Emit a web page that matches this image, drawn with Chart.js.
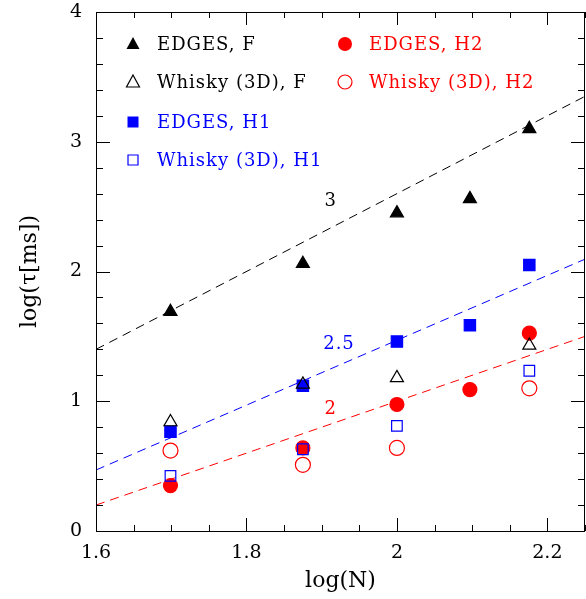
<!DOCTYPE html>
<html>
<head>
<meta charset="utf-8">
<script src="https://cdn.jsdelivr.net/npm/chart.js@4.4.1/dist/chart.umd.min.js"></script>
<style>
    html, body { margin: 0; padding: 0; background: #fff; }
    #wrap { width: 586px; height: 599px; }
</style>
</head>
<body>
<div id="wrap"><canvas id="tau-chart"></canvas></div>
<script>
// datos
const logN = [1.699, 1.875, 2.0, 2.097, 2.176];
const logNWhisky = [1.699, 1.875, 2.0, 2.176];

const edgesF = [1.69, 2.06, 2.45, 2.56, 3.10];
const whiskyF = [0.84, 1.13, 1.18, 1.43];
const edgesH1 = [0.765, 1.12, 1.46, 1.585, 2.05];
const whiskyH1 = [0.425, 0.63, 0.81, 1.235];
const edgesH2 = [0.35, 0.64, 0.975, 1.09, 1.525];
const whiskyH2 = [0.62, 0.51, 0.64, 1.10];

// rectas de pendiente 3, 2.5 y 2
const fitX = [1.6, 2.25];
const fitSlope3 = [1.40, 3.35];
const fitSlope25 = [0.47, 2.095];
const fitSlope2 = [0.20, 1.50];
const slopeLabels = ['3', '2.5', '2'];

const xTicks = [1.6, 1.8, 2.0, 2.2];
const yTicks = [0, 1, 2, 3, 4];

const legendLabels = ['EDGES, F', 'Whisky (3D), F', 'EDGES, H1', 'Whisky (3D), H1', 'EDGES, H2', 'Whisky (3D), H2'];

const FONT = '"DejaVu Serif", serif';

function pts(xs, ys) {
    return xs.map(function(x, i) { return { x: x, y: ys[i] }; });
}

function markerSet(label, xs, ys, color, shape, filled, r) {
    return {
        label: label,
        data: pts(xs, ys),
        pointStyle: shape,
        pointRadius: r,
        pointHoverRadius: r,
        pointBackgroundColor: filled ? color : 'rgba(0,0,0,0)',
        pointBorderColor: color,
        pointBorderWidth: 1.2,
        showLine: false
    };
}

function fitSet(ys, color) {
    return {
        label: 'fit',
        data: pts(fitX, ys),
        showLine: true,
        borderColor: color,
        borderWidth: 1,
        borderDash: [9, 6],
        pointRadius: 0,
        fill: false
    };
}

// marcos, ticks internos, leyenda y etiquetas de pendiente
const framePlugin = {
    id: 'frame',
    afterDatasetsDraw: function(chart) {
        const ctx = chart.ctx;
        const a = chart.chartArea;
        const xs = chart.scales.x, ys = chart.scales.y;
        ctx.save();
        ctx.strokeStyle = '#000';
        ctx.lineWidth = 1;
        ctx.strokeRect(a.left + 0.5, a.top + 0.5, a.right - a.left - 1, a.bottom - a.top);

        ctx.beginPath();
        for (let i = 0; i <= 13; i++) {
            const v = 1.6 + i * 0.05;
            const px = Math.round(xs.getPixelForValue(v)) + 0.5;
            const len = (i % 4 === 0) ? 13 : 6;
            ctx.moveTo(px, a.bottom); ctx.lineTo(px, a.bottom - len);
            ctx.moveTo(px, a.top); ctx.lineTo(px, a.top + len);
        }
        for (let j = 0; j <= 20; j++) {
            const v = j * 0.2;
            const py = Math.round(ys.getPixelForValue(v)) + 0.5;
            const len = (j % 5 === 0) ? 14 : 7;
            ctx.moveTo(a.left, py); ctx.lineTo(a.left + len, py);
            ctx.moveTo(a.right, py); ctx.lineTo(a.right - len, py);
        }
        ctx.stroke();

        // leyenda
        const colors = ['#000', '#000', '#0000ff', '#0000ff', '#ff0000', '#ff0000'];
        const shapes = ['triangle', 'triangle', 'rect', 'rect', 'circle', 'circle'];
        const rowsY = [44, 82, 122, 160, 44, 82];
        ctx.font = '18px ' + FONT;
        ctx.letterSpacing = '1px';
        ctx.textBaseline = 'middle';
        ctx.textAlign = 'left';
        legendLabels.forEach(function(txt, i) {
            const col = i < 4 ? 0 : 1;
            const mx = col === 0 ? 133 : 345;
            const tx = col === 0 ? 157 : 369;
            const y = rowsY[i];
            const filled = i % 2 === 0;
            ctx.fillStyle = colors[i];
            ctx.strokeStyle = colors[i];
            ctx.lineWidth = 1.2;
            ctx.beginPath();
            if (shapes[i] === 'triangle') {
                ctx.moveTo(mx, y - 7); ctx.lineTo(mx + 6.5, y + 5); ctx.lineTo(mx - 6.5, y + 5); ctx.closePath();
            } else if (shapes[i] === 'rect') {
                const s = filled ? 5.5 : 5;
                ctx.rect(mx - s, y - s, 2 * s, 2 * s);
            } else {
                ctx.arc(mx, y, 7, 0, Math.PI * 2);
            }
            if (filled) ctx.fill(); else ctx.stroke();
            ctx.fillText(txt, tx, y + 1);
        });

        // etiquetas de las pendientes
        ctx.font = '18px ' + FONT;
        ctx.textAlign = 'center';
        const lblColors = ['#000', '#0000ff', '#ff0000'];
        const lblPos = [[1.912, 2.54], [1.923, 1.44], [1.912, 0.94]];
        slopeLabels.forEach(function(t, i) {
            ctx.fillStyle = lblColors[i];
            ctx.fillText(t, xs.getPixelForValue(lblPos[i][0]), ys.getPixelForValue(lblPos[i][1]));
        });
        ctx.restore();
    }
};

document.addEventListener('DOMContentLoaded', function() {
    const ctx = document.getElementById('tau-chart').getContext('2d');
    new Chart(ctx, {
        type: 'scatter',
        data: {
            datasets: [
                markerSet('EDGES, F', logN, edgesF, '#000', 'triangle', true, 7.5),
                markerSet('Whisky (3D), F', logNWhisky, whiskyF, '#000', 'triangle', false, 7.5),
                markerSet('EDGES, H1', logN, edgesH1, '#0000ff', 'rect', true, 8),
                markerSet('Whisky (3D), H1', logNWhisky, whiskyH1, '#0000ff', 'rect', false, 7.5),
                markerSet('EDGES, H2', logN, edgesH2, '#ff0000', 'circle', true, 7),
                markerSet('Whisky (3D), H2', logNWhisky, whiskyH2, '#ff0000', 'circle', false, 7.5),
                fitSet(fitSlope3, '#000'),
                fitSet(fitSlope25, '#0000ff'),
                fitSet(fitSlope2, '#ff0000')
            ]
        },
        options: {
            responsive: true,
            maintainAspectRatio: false,
            animation: false,
            layout: { autoPadding: false, padding: { top: 12, right: 1, left: 0, bottom: 0 } },
            plugins: {
                legend: { display: false },
                tooltip: { enabled: false }
            },
            scales: {
                x: {
                    type: 'linear',
                    min: 1.6,
                    max: 2.25,
                    grid: { display: false, drawTicks: false },
                    border: { display: false },
                    afterBuildTicks: function(s) { s.ticks = xTicks.map(function(v) { return { value: v }; }); },
                    afterFit: function(s) { s.height = 68; s.paddingLeft = 0; s.paddingRight = 0; },
                    ticks: {
                        color: '#000',
                        padding: 11,
                        maxRotation: 0,
                        font: { family: FONT, size: 19 },
                        callback: function(v) { return String(+v.toFixed(1)); }
                    },
                    title: {
                        display: true,
                        text: 'log(N)',
                        color: '#000',
                        font: { family: FONT, size: 22 },
                        padding: { top: 0, bottom: 5 }
                    }
                },
                y: {
                    type: 'linear',
                    min: 0,
                    max: 4,
                    grid: { display: false, drawTicks: false },
                    border: { display: false },
                    afterBuildTicks: function(s) { s.ticks = yTicks.map(function(v) { return { value: v }; }); },
                    afterFit: function(s) { s.width = 96; s.paddingTop = 0; s.paddingBottom = 0; },
                    ticks: {
                        color: '#000',
                        padding: 14,
                        font: { family: FONT, size: 19 },
                        callback: function(v) { return String(v); }
                    },
                    title: {
                        display: true,
                        text: 'log(τ[ms])',
                        color: '#000',
                        font: { family: FONT, size: 22 },
                        padding: { top: 17, bottom: 0 }
                    }
                }
            }
        },
        plugins: [framePlugin]
    });
});
</script>
</body>
</html>
